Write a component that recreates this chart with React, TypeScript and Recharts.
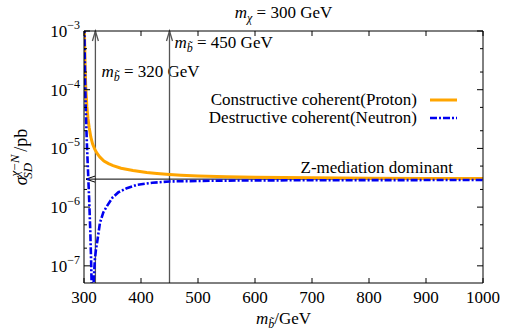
import React from 'react';
import { LineChart, Line, XAxis, YAxis, ReferenceLine, Legend } from 'recharts';

// proton (constructive) curve
const protonMass = [300.5, 301, 302, 303, 305, 307, 309, 312, 315, 319, 323, 328, 335, 343, 351, 365, 386, 410, 428, 450, 470, 500, 550, 600, 700, 800, 900, 1000];
const protonSigma = [2.5e-3, 7.5e-4, 2.5e-4, 1.15e-4, 5.2e-5, 3.2e-5, 2.3e-5, 1.55e-5, 1.2e-5, 9.6e-6, 8.2e-6, 7.1e-6, 6.1e-6, 5.5e-6, 5.1e-6, 4.6e-6, 4.2e-6, 3.9e-6, 3.75e-6, 3.6e-6, 3.5e-6, 3.4e-6, 3.3e-6, 3.22e-6, 3.15e-6, 3.11e-6, 3.08e-6, 3.06e-6];

// neutron (destructive) curve, dips through zero near 315 GeV
const neutronMass = [300.5, 301, 302, 303, 305, 307, 309, 311, 312.5, 313.8, 316.2, 317, 319, 321, 323, 328, 334, 340, 350, 360, 375, 393, 420, 450, 500, 550, 600, 700, 800, 900, 1000];
const neutronSigma = [2.0e-3, 6.0e-4, 1.4e-4, 5.0e-5, 1.25e-5, 4.2e-6, 1.4e-6, 4.0e-7, 1.2e-7, 3e-8, 3e-8, 5.5e-8, 1.26e-7, 1.9e-7, 2.5e-7, 5.4e-7, 8.2e-7, 1.03e-6, 1.45e-6, 1.78e-6, 2.1e-6, 2.4e-6, 2.6e-6, 2.74e-6, 2.79e-6, 2.83e-6, 2.85e-6, 2.87e-6, 2.88e-6, 2.89e-6, 2.9e-6];

const xTicks = [300, 400, 500, 600, 700, 800, 900, 1000];
const yMajor = [1e-7, 1e-6, 1e-5, 1e-4, 1e-3];
const yMinor = [2e-7, 5e-7, 2e-6, 5e-6, 2e-5, 5e-5, 2e-4, 5e-4];
const yTicks = [...yMajor, ...yMinor];

const zLevel = 3.0e-6;
const markerMasses = [320, 450];

const FONT = "'Liberation Serif', 'Times New Roman', serif";
const FS = 17;
const SUB = 12;
const txt = { fontFamily: FONT, fontSize: FS, fill: '#000' };

const series = [
  { key: 'proton', name: 'Constructive coherent(Proton)', color: '#FFA500', width: 3, dash: undefined as string | undefined },
  { key: 'neutron', name: 'Destructive coherent(Neutron)', color: '#0000F0', width: 2.6, dash: '7 2 2 2' },
];

const protonData = protonMass.map((m, i) => ({ m, v: protonSigma[i] }));
const neutronData = neutronMass.map((m, i) => ({ m, v: neutronSigma[i] }));

const LeftTick = (p: any) => {
  const v = p.payload.value;
  const major = yMajor.includes(v);
  const exp = Math.round(Math.log10(v));
  return (
    <g>
      <line x1={p.x} x2={p.x + (major ? 6 : 3)} y1={p.y} y2={p.y} stroke="#000" />
      {major && (
        <text x={p.x - 4} y={p.y + 6} textAnchor="end" style={txt}>
          10<tspan dy={-8} style={{ fontSize: SUB }}>{'\u2212' + -exp}</tspan>
        </text>
      )}
    </g>
  );
};

const RightTick = (p: any) => {
  const major = yMajor.includes(p.payload.value);
  return <line x1={p.x} x2={p.x - (major ? 6 : 3)} y1={p.y} y2={p.y} stroke="#000" />;
};

const BottomTick = (p: any) => (
  <g>
    <line x1={p.x} x2={p.x} y1={p.y} y2={p.y - 5} stroke="#000" />
    <text x={p.x} y={p.y + 20} textAnchor="middle" style={txt}>
      {p.payload.value}
    </text>
  </g>
);

const TopTick = (p: any) => <line x1={p.x} x2={p.x} y1={p.y} y2={p.y + 5} stroke="#000" />;

const MassB = () => (
  <>
    <tspan style={{ fontStyle: 'italic' }}>m</tspan>
    <tspan style={{ fontStyle: 'italic', fontSize: SUB }} dy={4}>{'b\u0303'}</tspan>
  </>
);

const MarkerArrow = (p: any) => {
  const x = p.x1;
  const top = Math.min(p.y1, p.y2);
  const bot = Math.max(p.y1, p.y2);
  const is320 = p.mass === 320;
  return (
    <g>
      <line x1={x} x2={x} y1={bot} y2={top} stroke="#555" strokeWidth={1.3} />
      <path d={`M${x - 3},${top + 10} L${x},${top} L${x + 3},${top + 10}`} fill="none" stroke="#555" strokeWidth={1.3} />
      <text x={x + (is320 ? 6 : 5)} y={top + (is320 ? 46 : 17)} style={txt}>
        <MassB />
        <tspan dy={-4}>{` = ${p.mass} GeV`}</tspan>
      </text>
    </g>
  );
};

const ZLine = (p: any) => {
  const xl = Math.min(p.x1, p.x2) + 2;
  const xr = Math.max(p.x1, p.x2);
  const y = p.y1;
  return (
    <g>
      <line x1={xl} x2={xr} y1={y} y2={y} stroke="#000" strokeWidth={1} />
      <path d={`M${xl + 9},${y - 3} L${xl},${y} L${xl + 9},${y + 3}`} fill="none" stroke="#000" strokeWidth={1} />
      <text x={xr - 30} y={y - 6} textAnchor="end" style={txt}>
        Z-mediation dominant
      </text>
    </g>
  );
};

const renderLegend = () => (
  <div style={{ fontFamily: FONT, fontSize: FS, lineHeight: '18px', color: '#000' }}>
    {series.map((s) => (
      <div key={s.key} style={{ display: 'flex', justifyContent: 'flex-end', alignItems: 'center', height: 18 }}>
        <span style={{ whiteSpace: 'nowrap' }}>{s.name}</span>
        <svg width={27} height={6} style={{ marginLeft: 13 }}>
          <line x1={0} x2={27} y1={3} y2={3} stroke={s.color} strokeWidth={s.width} strokeDasharray={s.dash} />
        </svg>
      </div>
    ))}
  </div>
);

export default function App() {
  return (
    <div style={{ position: 'absolute', left: 0, top: 0, width: 505, height: 331, background: '#fff' }}>
      <LineChart width={505} height={331} margin={{ top: 30, right: 21, bottom: 0, left: 0 }}>
        <XAxis
          xAxisId="b"
          dataKey="m"
          type="number"
          domain={[300, 1000]}
          ticks={xTicks}
          interval={0}
          allowDataOverflow
          height={48}
          stroke="#000"
          tickSize={0}
          tickMargin={0}
          tickLine={false}
          tick={<BottomTick />}
          label={{
            content: (lp: any) => {
              const vb = lp.viewBox;
              return (
                <text x={vb.x + vb.width / 2} y={vb.y + 41} textAnchor="middle" style={txt}>
                  <MassB />
                  <tspan dy={-4}>/GeV</tspan>
                </text>
              );
            },
          }}
        />
        <XAxis
          xAxisId="t"
          orientation="top"
          dataKey="m"
          type="number"
          domain={[300, 1000]}
          ticks={xTicks}
          interval={0}
          allowDataOverflow
          height={1}
          stroke="#000"
          tickSize={0}
          tickMargin={0}
          tickLine={false}
          tick={<TopTick />}
          label={{
            content: (lp: any) => {
              const vb = lp.viewBox;
              return (
                <text x={vb.x + vb.width / 2} y={18} textAnchor="middle" style={txt}>
                  <tspan style={{ fontStyle: 'italic' }}>m</tspan>
                  <tspan style={{ fontStyle: 'italic', fontSize: SUB }} dy={4}>χ</tspan>
                  <tspan dy={-4}>{' = 300 GeV'}</tspan>
                </text>
              );
            },
          }}
        />
        <YAxis
          yAxisId="l"
          type="number"
          scale="log"
          domain={[5.1e-8, 1e-3]}
          ticks={yTicks}
          interval={0}
          allowDataOverflow
          width={84}
          stroke="#000"
          tickSize={0}
          tickMargin={0}
          tickLine={false}
          tick={<LeftTick />}
          label={{
            content: (lp: any) => {
              const vb = lp.viewBox;
              const cx = vb.x + 27;
              const cy = vb.y + vb.height / 2;
              return (
                <text x={cx} y={cy} transform={`rotate(-90 ${cx} ${cy})`} textAnchor="middle" style={{ ...txt, fontSize: 18 }}>
                  <tspan style={{ fontStyle: 'italic' }}>σ</tspan>
                  <tspan style={{ fontSize: 13 }} dy={-8}>
                    <tspan style={{ fontStyle: 'italic' }}>χ</tspan>
                    {'\u2212'}
                    <tspan style={{ fontStyle: 'italic' }}>N</tspan>
                  </tspan>
                  <tspan style={{ fontSize: 13, fontStyle: 'italic' }} dx={-24} dy={13}>SD</tspan>
                  <tspan dy={-5} dx={11}>/pb</tspan>
                </text>
              );
            },
          }}
        />
        <YAxis
          yAxisId="r"
          orientation="right"
          type="number"
          scale="log"
          domain={[5.1e-8, 1e-3]}
          ticks={yTicks}
          interval={0}
          allowDataOverflow
          width={1}
          stroke="#000"
          tickSize={0}
          tickMargin={0}
          tickLine={false}
          tick={<RightTick />}
        />
        <Legend layout="horizontal" verticalAlign="middle" align="center" wrapperStyle={{ top: 91, left: 0, width: 457 }} content={renderLegend} />
        {markerMasses.map((mass) => (
          <ReferenceLine key={mass} x={mass} xAxisId="b" yAxisId="l" shape={(p: any) => <MarkerArrow {...p} mass={mass} />} />
        ))}
        <ReferenceLine y={zLevel} xAxisId="b" yAxisId="l" shape={(p: any) => <ZLine {...p} />} />
        <Line
          xAxisId="b"
          yAxisId="l"
          data={protonData}
          dataKey="v"
          name={series[0].name}
          stroke={series[0].color}
          strokeWidth={series[0].width}
          dot={false}
          isAnimationActive={false}
        />
        <Line
          xAxisId="b"
          yAxisId="l"
          data={neutronData}
          dataKey="v"
          name={series[1].name}
          stroke={series[1].color}
          strokeWidth={series[1].width}
          strokeDasharray={series[1].dash}
          dot={false}
          isAnimationActive={false}
        />
      </LineChart>
    </div>
  );
}
